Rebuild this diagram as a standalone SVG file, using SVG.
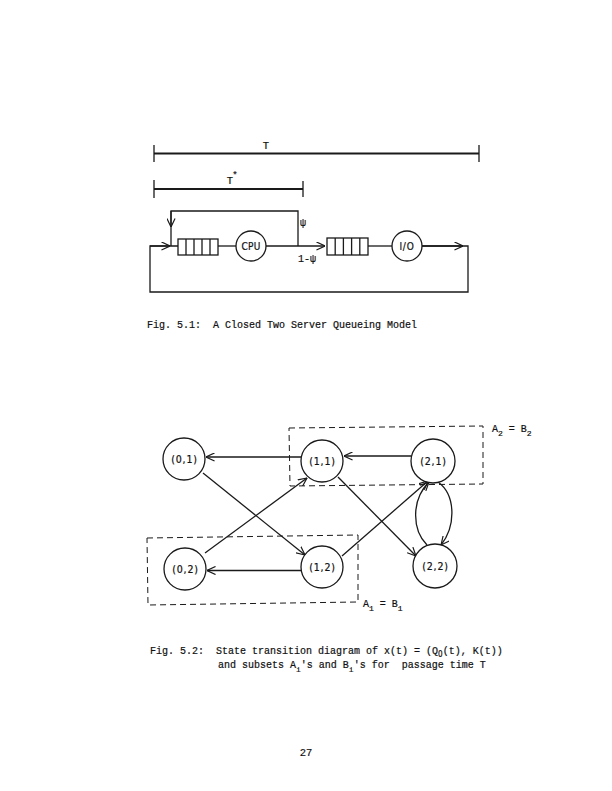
<svg xmlns="http://www.w3.org/2000/svg" width="612" height="791" viewBox="0 0 612 791">
<style>
.ln{fill:none;stroke:#1a1a1a;stroke-width:1.3}
.th{fill:none;stroke:#1a1a1a;stroke-width:1.8}
.nd{fill:#fff;stroke:#1a1a1a;stroke-width:1.3}
.ds{fill:none;stroke:#1a1a1a;stroke-width:1;stroke-dasharray:6 4}
.tx{font-family:"Liberation Mono","DejaVu Sans Mono",monospace;font-size:10px;fill:#111;stroke:#111;stroke-width:0.2;white-space:pre}
.lb{font-family:"Liberation Mono","DejaVu Sans Mono",monospace;font-size:10.5px;fill:#111;stroke:#111;stroke-width:0.2;text-anchor:middle}
.nl{font-family:"DejaVu Sans Condensed","DejaVu Sans",sans-serif;font-size:10.5px;fill:#111;stroke:#111;stroke-width:0.2;text-anchor:middle;letter-spacing:0.8px}
.sb{font-size:8px}
.z{font-family:"DejaVu Sans Condensed","DejaVu Sans",sans-serif}
</style>
<defs>
<marker id="ah" viewBox="0 0 10 10" refX="9.5" refY="5" markerWidth="9" markerHeight="9" markerUnits="userSpaceOnUse" orient="auto">
<path d="M0,0.5 L9.5,5 L0,9.5" fill="none" stroke="#1a1a1a" stroke-width="1.3"/>
</marker>
</defs>
<rect width="612" height="791" fill="#fff"/>

<g id="fig51">
<g id="timeT">
<line class="th" x1="154" y1="153.5" x2="479" y2="153.5"/>
<line class="ln" x1="154" y1="145" x2="154" y2="162"/>
<line class="ln" x1="479" y1="145" x2="479" y2="162"/>
<text class="lb" x="266" y="149">T</text>
</g>
<g id="timeTstar">
<line class="th" x1="154" y1="189" x2="303" y2="189"/>
<line class="ln" x1="154" y1="180" x2="154" y2="198"/>
<line class="ln" x1="303" y1="181" x2="303" y2="197"/>
<text class="lb" x="230" y="184">T</text>
<text class="lb" x="235" y="178" style="font-size:9px">*</text>
</g>
<g id="connectors51">
<polyline class="ln" points="298,246 298,211 171,211 171,246"/>
<line class="ln" x1="171" y1="211" x2="171" y2="227" marker-end="url(#ah)"/>
<polyline class="ln" points="178,246 150,246 150,292 468,292 468,246 422,246"/>
<line class="ln" x1="150" y1="246" x2="170" y2="246" marker-end="url(#ah)"/>
<line class="ln" x1="422" y1="246" x2="463" y2="246" marker-end="url(#ah)"/>
<line class="ln" x1="218" y1="246" x2="236" y2="246"/>
<line class="ln" x1="266" y1="246" x2="325" y2="246" marker-end="url(#ah)"/>
<line class="ln" x1="368" y1="246" x2="392" y2="246"/>
<text class="tx" x="300" y="226">ψ</text>
<text class="tx" x="298" y="262">1-ψ</text>
</g>
<g id="queue1">
<rect class="nd" x="178" y="239" width="40" height="16"/>
<path class="ln" d="M186,239V255M194,239V255M202,239V255M210,239V255"/>
</g>
<g id="cpu">
<circle class="nd" cx="251" cy="246" r="15"/>
<text class="nl" x="251" y="249.5" style="font-size:10px;letter-spacing:0.3px">CPU</text>
</g>
<g id="queue2">
<rect class="nd" x="327" y="238" width="41" height="17"/>
<path class="ln" d="M335.2,238V255M343.4,238V255M351.6,238V255M359.8,238V255"/>
</g>
<g id="io">
<circle class="nd" cx="407" cy="246" r="15"/>
<text class="nl" x="407" y="249.5" style="font-size:10px">I/O</text>
</g>
<text class="tx" x="147" y="328">Fig. 5.1:  A Closed Two Server Queueing Model</text>
</g>

<g id="fig52">
<g id="subsets">
<polygon class="ds" points="289,428 483,426 483,484 290,486"/>
<polygon class="ds" points="147,538 358,535 358,602 148,605"/>
<text class="tx" x="492" y="432">A<tspan class="sb" dy="4">2</tspan><tspan dy="-4"> = B</tspan><tspan class="sb" dy="4">2</tspan></text>
<text class="tx" x="363" y="607">A<tspan class="sb" dy="4">1</tspan><tspan dy="-4"> = B</tspan><tspan class="sb" dy="4">1</tspan></text>
</g>
<g id="connectors52">
<line class="ln" x1="301" y1="457" x2="206" y2="457" marker-end="url(#ah)"/>
<line class="ln" x1="411" y1="456" x2="344" y2="456" marker-end="url(#ah)"/>
<line class="ln" x1="301" y1="570.5" x2="207" y2="570.5" marker-end="url(#ah)"/>
<line class="ln" x1="203" y1="473" x2="305" y2="555" marker-end="url(#ah)"/>
<line class="ln" x1="205" y1="553" x2="307" y2="478" marker-end="url(#ah)"/>
<line class="ln" x1="338" y1="477" x2="416" y2="556" marker-end="url(#ah)"/>
<line class="ln" x1="342" y1="556" x2="428" y2="481" marker-end="url(#ah)"/>
<path class="ln" d="M427,545 C412,530 411,500 429,482" marker-end="url(#ah)"/>
<path class="ln" d="M438,482 C456,495 456,526 441,545" marker-end="url(#ah)"/>
</g>
<g id="n01"><circle class="nd" cx="184" cy="459" r="21"/><text class="nl" x="184.5" y="462.5">(0,1)</text></g>
<g id="n11"><circle class="nd" cx="322" cy="461" r="21"/><text class="nl" x="322.5" y="464.5">(1,1)</text></g>
<g id="n21"><circle class="nd" cx="433" cy="461" r="22"/><text class="nl" x="433.5" y="464.5">(2,1)</text></g>
<g id="n02"><circle class="nd" cx="185" cy="569" r="21"/><text class="nl" x="185.5" y="572.5">(0,2)</text></g>
<g id="n12"><circle class="nd" cx="322" cy="567" r="21"/><text class="nl" x="322.5" y="570.5">(1,2)</text></g>
<g id="n22"><circle class="nd" cx="435" cy="566" r="22"/><text class="nl" x="435.5" y="569.5">(2,2)</text></g>
<text class="tx" x="150" y="654">Fig. 5.2:  State transition diagram of x(t) = (Q<tspan class="sb z" dy="3">0</tspan><tspan dy="-3">(t), K(t))</tspan></text>
<text class="tx" x="218" y="668">and subsets A<tspan class="sb" dy="4">i</tspan><tspan dy="-4">'s and B</tspan><tspan class="sb" dy="4">i</tspan><tspan dy="-4">'s for  passage time T</tspan></text>
</g>
<text class="lb" x="306" y="756">27</text>
</svg>
